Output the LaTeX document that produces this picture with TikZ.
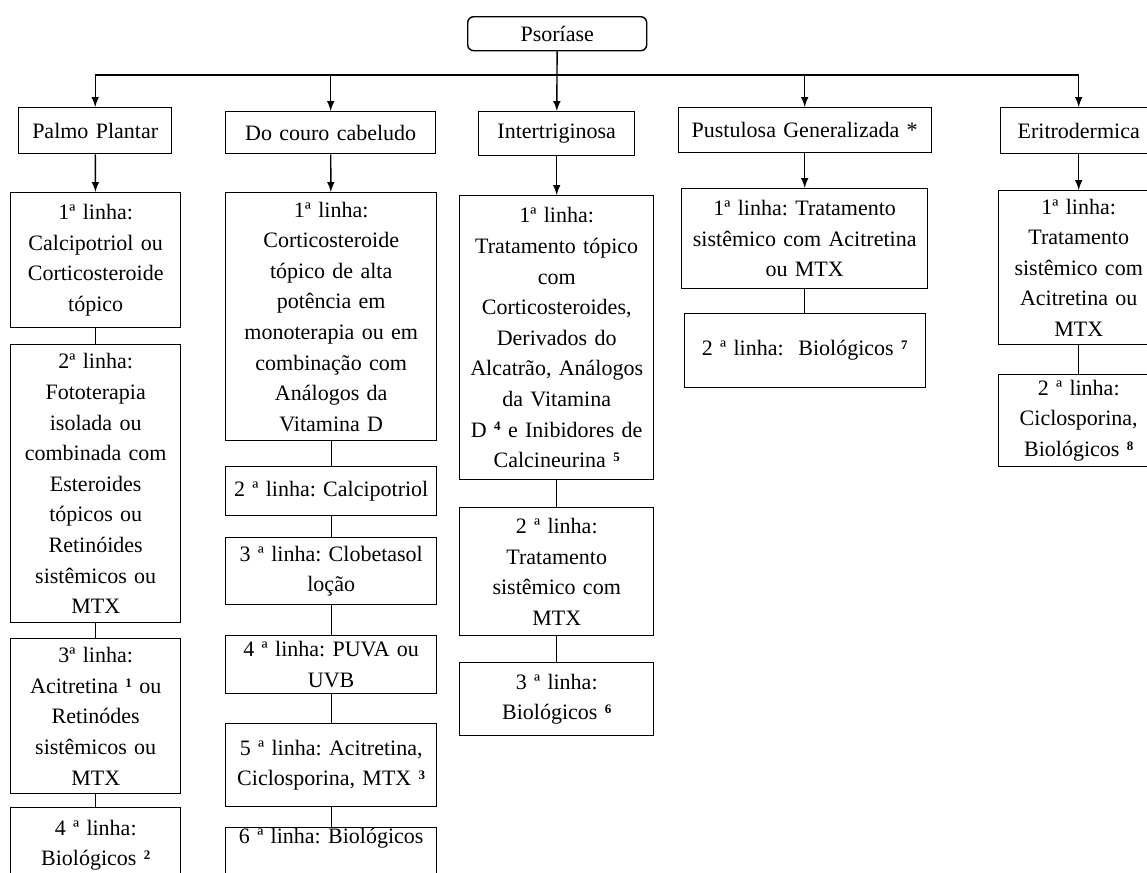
\documentclass[tikz,border=0pt]{standalone}
\usepackage{fontspec}
\setmainfont{Liberation Serif}
\frenchspacing

\newcommand{\nota}[1]{\raisebox{.6ex}{\fontsize{6.5}{7}\selectfont\bfseries #1}}

\tikzset{
  estilo fluxo/.style={
      x=0.5pt, y=-0.5pt,
      caixa/.style={rectangle, draw, anchor=north west, inner sep=0pt, align=center, line width=0.7pt},
      raiz/.style={caixa, rounded corners=3pt},
      seta/.style={-latex, line width=0.7pt},
      liga/.style={line width=0.7pt},
      every node/.style={font={\fontsize{11}{15.3}\selectfont}},
    },
  tam/.style 2 args={text width=#1, minimum width=#1, minimum height=#2},
}

\begin{document}
\begin{tikzpicture}[estilo fluxo]
    \useasboundingbox (0,0) rectangle (1147,873);

    \node[raiz, tam={89.5pt}{17pt}] (psoriase) at (467,16) {Psoríase};
    \node[caixa, tam={76.5pt}{23pt}] (palmo) at (18,107) {Palmo Plantar};
    \node[caixa, tam={105pt}{21pt}] (couro) at (225,111) {Do couro cabeludo};
    \node[caixa, tam={78pt}{22pt}] (inter) at (478,111) {Intertriginosa};
    \node[caixa, tam={126.5pt}{22.5pt}] (pust) at (677.5,107) {Pustulosa Generalizada *};
    \node[caixa, tam={78pt}{23pt}] (erit) at (1000,107) {Eritrodermica};

    % palmo plantar
    \node[caixa, tam={85pt}{67.5pt}] (p1) at (10,192) {1ª linha:\\ Calcipotriol ou\\ Corticosteroide\\ tópico};
    \node[caixa, tam={85pt}{139pt}] (p2) at (10,344) {2ª linha:\\ Fototerapia\\ isolada ou\\ combinada com\\ Esteroides\\ tópicos ou\\ Retinóides\\ sistêmicos ou\\ MTX};
    \node[caixa, tam={85pt}{77.5pt}] (p3) at (10,638) {3ª linha:\\ Acitretina \nota{1} ou\\ Retinódes\\ sistêmicos ou\\ MTX};
    \node[caixa, tam={85pt}{37.5pt}] (p4) at (10,807) {4 ª linha:\\ Biológicos \nota{2}};

    % couro cabeludo
    \node[caixa, tam={105.5pt}{124pt}] (c1) at (225,192) {1ª linha:\\ Corticosteroide\\ tópico de alta\\ potência em\\ monoterapia ou em\\ combinação com\\ Análogos da\\ Vitamina D};
    \node[caixa, tam={105.5pt}{24.5pt}] (c2) at (225,466) {2 ª linha: Calcipotriol};
    \node[caixa, tam={105.5pt}{33.5pt}] (c3) at (225,537) {3 ª linha: Clobetasol\\ loção};
    \node[caixa, tam={105.5pt}{29pt}] (c4) at (225,635) {4 ª linha: PUVA ou\\ UVB};
    \node[caixa, tam={105.5pt}{41.5pt}] (c5) at (225,723) {5 ª linha: Acitretina,\\ Ciclosporina, MTX \nota{3}};
    \node[caixa, tam={105.5pt}{0pt}, text depth=26pt] (c6) at (225,827) {6 ª linha: Biológicos};

    % intertriginosa
    \node[caixa, tam={97pt}{142pt}] (i1) at (459,195) {1ª linha:\\ Tratamento tópico\\ com\\ Corticosteroides,\\ Derivados do\\ Alcatrão, Análogos\\ da Vitamina\\ D \nota{4} e Inibidores de\\ Calcineurina \nota{5}};
    \node[caixa, tam={97pt}{64pt}] (i2) at (459,507) {2 ª linha:\\ Tratamento\\ sistêmico com\\ MTX};
    \node[caixa, tam={97pt}{36.5pt}] (i3) at (459,662) {3 ª linha:\\ Biológicos \nota{6}};

    % pustulosa generalizada
    \node[caixa, tam={123pt}{50pt}] (g1) at (681,188) {1ª linha: Tratamento\\ sistêmico com Acitretina\\ ou MTX};
    \node[caixa, tam={120.5pt}{37pt}] (g2) at (683.5,313) {2 ª linha: \ Biológicos \nota{7}};

    % eritrodermica
    \node[caixa, tam={80pt}{77pt}] (e1) at (998,190) {1ª linha:\\ Tratamento\\ sistêmico com\\ Acitretina ou\\ MTX};
    \node[caixa, tam={80pt}{46pt}] (e2) at (998,374) {2 ª linha:\\ Ciclosporina,\\ Biológicos \nota{8}};

    \coordinate (juncao) at (557,75);
    \draw[liga] (palmo |- juncao) -- (erit |- juncao);
    \draw[seta] (psoriase) -- (inter);
    \draw[seta] (palmo |- juncao) -- (palmo);
    \draw[seta] (couro |- juncao) -- (couro);
    \draw[seta] (pust |- juncao) -- (pust);
    \draw[seta] (erit |- juncao) -- (erit);

    \draw[seta] (palmo) -- (p1);
    \draw[seta] (couro) -- (c1);
    \draw[seta] (inter) -- (i1);
    \draw[seta] (pust) -- (g1);
    \draw[seta] (erit) -- (e1);

    \draw[liga] (p1) -- (p2);
    \draw[liga] (p2) -- (p3);
    \draw[liga] (p3) -- (p4);
    \draw[liga] (c1) -- (c2);
    \draw[liga] (c2) -- (c3);
    \draw[liga] (c3) -- (c4);
    \draw[liga] (c4) -- (c5);
    \draw[liga] (c5) -- (c6);
    \draw[liga] (i1) -- (i2);
    \draw[liga] (i2) -- (i3);
    \draw[liga] (g1) -- (g2);
    \draw[liga] (e1) -- (e2);
\end{tikzpicture}
\end{document}
